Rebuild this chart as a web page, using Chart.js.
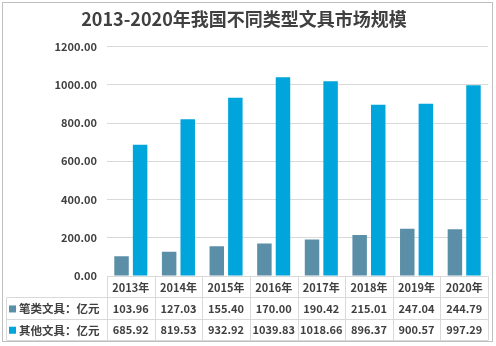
<!DOCTYPE html>
<html>
<head>
<meta charset="utf-8">
<script src="https://cdn.jsdelivr.net/npm/chart.js@4/dist/chart.umd.min.js"></script>
<style>
  html, body { margin: 0; padding: 0; background: #fff; }
  #wrap { width: 496px; height: 346px; position: relative; }
</style>
</head>
<body>
<div id="wrap"><canvas id="c" width="496" height="346"></canvas></div>
<script>
const years = ['2013年', '2014年', '2015年', '2016年', '2017年', '2018年', '2019年', '2020年'];
const penValues = [103.96, 127.03, 155.40, 170.00, 190.42, 215.01, 247.04, 244.79];
const otherValues = [685.92, 819.53, 932.92, 1039.83, 1018.66, 896.37, 900.57, 997.29];
const seriesNames = ['笔类文具：亿元', '其他文具：亿元'];
const seriesColors = ['#5b8fa8', '#00a5db'];

const font = '"Noto Sans CJK SC", "DejaVu Sans", sans-serif';
const textColor = '#404040';
const lineColor = '#d9d9d9';

// data table under the plot, aligned with the category columns
const tablePlugin = {
  id: 'dataTable',
  beforeDraw(chart) {
    const c = chart.ctx;
    c.save();
    c.strokeStyle = '#bfbfbf';
    c.lineWidth = 1;
    c.strokeRect(2.5, 2.5, 490, 339);
    c.restore();
  },
  afterDraw(chart) {
    const c = chart.ctx;
    const area = chart.chartArea;
    const x = chart.scales.x;
    const colW = (area.right - area.left) / years.length;
    const top = area.bottom;
    const rowH = 21.3;
    const tableLeft = 6.5;

    c.save();
    c.strokeStyle = lineColor;
    c.lineWidth = 1;
    c.beginPath();
    // horizontal rules
    for (let r = 1; r <= 3; r++) {
      const y = Math.round(top + r * rowH) + 0.5;
      c.moveTo(tableLeft, y);
      c.lineTo(area.right, y);
    }
    // vertical rules
    for (let i = 0; i <= years.length; i++) {
      const xx = Math.round(area.left + i * colW) + 0.5;
      c.moveTo(xx, top);
      c.lineTo(xx, Math.round(top + 3 * rowH) + 0.5);
    }
    c.moveTo(tableLeft, Math.round(top + rowH) + 0.5);
    c.lineTo(tableLeft, Math.round(top + 3 * rowH) + 0.5);
    c.stroke();

    c.fillStyle = textColor;
    c.textAlign = 'center';
    c.textBaseline = 'middle';
    c.font = 'bold 11px ' + font;
    years.forEach((yr, i) => {
      const cx = x.getPixelForValue(i);
      c.fillText(yr, cx, top + rowH * 0.5 + 1);
      c.fillText(penValues[i].toFixed(2), cx, top + rowH * 1.5 + 1);
      c.fillText(otherValues[i].toFixed(2), cx, top + rowH * 2.5 + 1);
    });

    // legend keys in the first column
    c.textAlign = 'left';
    c.font = 'bold 11.5px ' + font;
    seriesNames.forEach((name, s) => {
      const cy = top + rowH * (1.5 + s) + 1;
      c.fillStyle = seriesColors[s];
      c.fillRect(9, cy - 3.5, 7, 7);
      c.fillStyle = textColor;
      c.fillText(name, 19, cy);
    });
    c.restore();
  }
};

new Chart(document.getElementById('c'), {
  type: 'bar',
  data: {
    labels: years,
    datasets: [
      { label: seriesNames[0], data: penValues, backgroundColor: seriesColors[0] },
      { label: seriesNames[1], data: otherValues, backgroundColor: seriesColors[1] }
    ]
  },
  options: {
    responsive: false,
    animation: false,
    datasets: { bar: { categoryPercentage: 0.78, barPercentage: 0.78 } },
    layout: { padding: { left: 0, right: 8, top: 0, bottom: 70 } },
    plugins: {
      legend: { display: false },
      tooltip: { enabled: false },
      title: {
        display: true,
        text: '2013-2020年我国不同类型文具市场规模',
        color: textColor,
        font: { family: font, size: 18, weight: 'bold' },
        padding: { top: 8, bottom: 17 }
      }
    },
    scales: {
      x: { display: false },
      y: {
        min: 0,
        max: 1200,
        afterFit(scale) { scale.width = 107; },
        border: { display: false },
        grid: { color: lineColor, drawTicks: false },
        ticks: {
          stepSize: 200,
          padding: 10,
          color: textColor,
          font: { family: font, size: 11, weight: 'bold' },
          callback: v => v.toFixed(2)
        }
      }
    }
  },
  plugins: [tablePlugin]
});
</script>
</body>
</html>
